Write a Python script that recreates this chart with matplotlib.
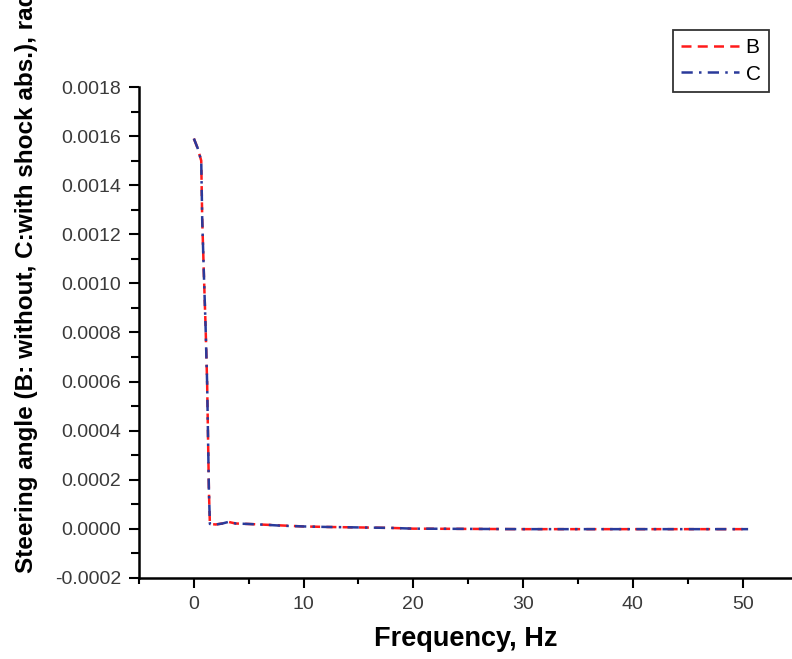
import matplotlib
matplotlib.use("Agg")
import matplotlib.pyplot as plt
from matplotlib.ticker import MultipleLocator, FormatStrFormatter

# values
freq = [0.0, 0.35, 0.67, 0.76, 0.91, 1.07, 1.21, 1.37, 1.46, 2.0, 2.6, 3.2, 3.8,
        5.0, 6.5, 8.0, 10.0, 12.0, 15.0, 18.0, 20.0, 25.0, 30.0, 35.0, 40.0, 45.0, 50.5]
steer_b = [0.00159, 0.00155, 0.00150, 0.00126, 0.00104, 0.00082, 0.00059, 0.000155, 0.00002,
           0.000018, 0.000022, 0.000028, 0.000022, 0.00002, 0.000017, 0.000014, 0.00001,
           0.000008, 0.000006, 0.000004, 0.000001, 0.0, -0.000001, -0.000001, -0.000001,
           -0.000001, -0.000001]
steer_c = [0.00159, 0.00155, 0.00150, 0.00126, 0.00104, 0.00082, 0.00059, 0.000155, 0.00002,
           0.000018, 0.000022, 0.000029, 0.000022, 0.00002, 0.000017, 0.000013, 0.00001,
           0.000008, 0.000006, 0.000004, 0.000001, 0.0, -0.000001, -0.000001, -0.000001,
           -0.000001, -0.000001]
legend_labels = ["B", "C"]

plt.rcParams["font.family"] = ["Liberation Sans", "DejaVu Sans"]
plt.rcParams["axes.unicode_minus"] = False

fig = plt.figure(figsize=(7.92, 6.59), dpi=100)
ax = fig.add_axes([139 / 792, 1 - 578 / 659, 1 - 139 / 792, (578 - 87) / 659])

ax.plot(freq, steer_b, color="#ff1a1a", linestyle=(0, (4, 2.5)), linewidth=1.8, label=legend_labels[0])
ax.plot(freq, steer_c, color="#2a3a9a", linestyle=(0, (4.5, 2.5, 1, 2.5)), linewidth=1.8,
        label=legend_labels[1])

ax.set_xlim(-5, 54.5)
ax.set_ylim(-0.0002, 0.0018)
ax.xaxis.set_major_locator(MultipleLocator(10))
ax.xaxis.set_minor_locator(MultipleLocator(5))
ax.yaxis.set_major_locator(MultipleLocator(0.0002))
ax.yaxis.set_minor_locator(MultipleLocator(0.0001))
ax.yaxis.set_major_formatter(FormatStrFormatter("%.4f"))

for side in ["top", "right"]:
    ax.spines[side].set_visible(False)
for side in ["left", "bottom"]:
    ax.spines[side].set_linewidth(1.8)

ax.tick_params(which="major", direction="out", length=7, width=1.5, labelsize=14,
               labelcolor="#3a3a3a", pad=6)
ax.tick_params(which="minor", direction="out", length=4, width=1.5)
ax.tick_params(axis="y", which="minor", length=6)

ax.set_xlabel("Frequency, Hz", fontsize=19.5, fontweight="bold", labelpad=9)
# the reference clips the top of this label at the figure edge
fig.text(27 / 792, 1 - 573 / 659, "Steering angle (B: without, C:with shock abs.), rad",
         rotation=90, ha="center", va="bottom", fontsize=17.5, fontweight="bold")

leg = ax.legend(loc="upper right", bbox_to_anchor=(769 / 792, 1 - 30 / 659),
                bbox_transform=fig.transFigure, borderaxespad=0, fancybox=False,
                fontsize=15, handlelength=2.8, handletextpad=0.3, labelspacing=0.35,
                borderpad=0.4)
leg.get_frame().set_edgecolor("black")
leg.get_frame().set_linewidth(1.3)

fig.savefig("out.png", dpi=100)
